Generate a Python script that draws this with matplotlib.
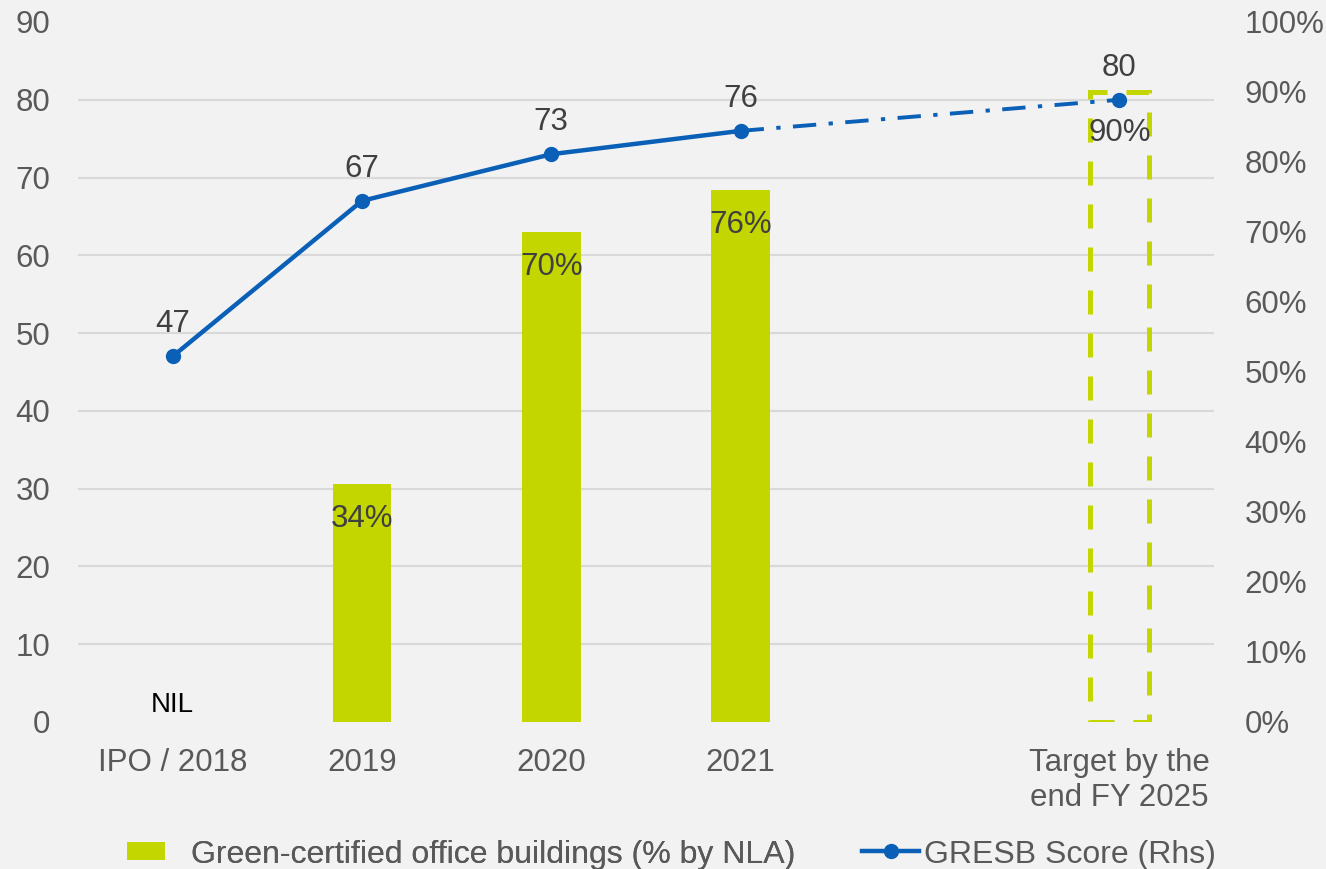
import numpy as np
import matplotlib
matplotlib.use("Agg")
import matplotlib.pyplot as plt
from matplotlib.patches import Patch
from matplotlib.lines import Line2D

# ---- data ----
categories = ["IPO / 2018", "2019", "2020", "2021", "", "Target by the\nend FY 2025"]
green_pct = [0, 34, 70, 76]          # Green-certified office buildings (% by NLA), IPO = NIL
green_target = 90                    # target by end FY 2025
gresb_score = [47, 67, 73, 76]       # GRESB score
gresb_target = 80
left_ticks = list(range(0, 91, 10))
right_ticks = list(range(0, 101, 10))

# ---- style ----
plt.rcParams['font.family'] = ['Liberation Sans', 'DejaVu Sans']
BG = '#f2f2f2'
GREEN = '#c4d600'
BLUE = '#0a5fb6'
TICK_C = '#595959'
LABEL_C = '#404040'
GRID_C = '#d9d9d9'
FS = 22.5

fig = plt.figure(figsize=(13.26, 8.69), dpi=100, facecolor=BG)
ax_b = fig.add_axes([0.0588, 0.1692, 0.8567, 0.8055], facecolor=BG)
ax_l = ax_b.twinx()
ax_l.patch.set_visible(False)

x = np.arange(len(categories))
bar_w = 0.31

# bars (right axis, %)
ax_b.bar(x[1:4], green_pct[1:4], width=bar_w, color=GREEN, zorder=3)
ax_b.bar(x[5], green_target, width=bar_w, facecolor='none', edgecolor=GREEN,
         linewidth=3.6, linestyle=(0, (4.8, 3.8)), zorder=3)
for xi, v in zip(x[1:4], green_pct[1:4]):
    ax_b.annotate(f"{v}%", (xi, v), xytext=(0, -25.5), textcoords='offset points',
                  ha='center', va='center', fontsize=FS, color=LABEL_C, zorder=5)
ax_b.annotate(f"{green_target}%", (x[5], green_target), xytext=(0, -29.5),
              textcoords='offset points', ha='center', va='center',
              fontsize=FS, color=LABEL_C, zorder=5)
ax_b.annotate("NIL", (x[0], 0), xytext=(0, 12), textcoords='offset points',
              ha='center', va='center', fontsize=20, color='black', zorder=5)

ax_b.set_ylim(0, 100)
ax_b.yaxis.tick_right()
ax_b.set_yticks(right_ticks)
ax_b.set_yticklabels([f"{v}%" for v in right_ticks])
ax_b.set_yticks(np.array(left_ticks) * 100 / 90, minor=True)
ax_b.grid(which='minor', axis='y', color=GRID_C, linewidth=1.5, zorder=0)
ax_b.tick_params(axis='y', which='both', length=0, labelsize=FS, labelcolor=TICK_C, pad=22)
ax_b.set_axisbelow(True)

# line (left axis)
ax_l.plot(x[:4], gresb_score, color=BLUE, linewidth=3.2, marker='o', markersize=10, zorder=4)
ax_l.plot([x[3], x[5]], [gresb_score[-1], gresb_target], color=BLUE, linewidth=2.8,
          linestyle=(0, (6, 3.2, 1.1, 3.2)), zorder=4)
ax_l.plot([x[5]], [gresb_target], color=BLUE, marker='o', markersize=10, linestyle='none', zorder=4)
for xi, v in zip(list(x[:4]) + [x[5]], gresb_score + [gresb_target]):
    ax_l.annotate(f"{v}", (xi, v), xytext=(0, 23), textcoords='offset points',
                  ha='center', va='center', fontsize=FS, color=LABEL_C)
ax_l.set_ylim(0, 90)
ax_l.yaxis.tick_left()
ax_l.set_yticks(left_ticks)
ax_l.tick_params(axis='y', length=0, labelsize=FS, labelcolor=TICK_C, pad=20)

ax_b.set_xlim(-0.5, len(categories) - 0.5)
ax_b.set_xticks([0, 1, 2, 3, 5])
ax_b.set_xticklabels([categories[i] for i in [0, 1, 2, 3, 5]])
ax_b.tick_params(axis='x', length=0, labelsize=FS, labelcolor=TICK_C, pad=19)

for a in (ax_b, ax_l):
    for s in a.spines.values():
        s.set_visible(False)

# legends
h1 = Patch(facecolor=GREEN, edgecolor='none')
leg1 = fig.legend([h1], ["Green-certified office buildings (% by NLA)"],
                  loc='center left', bbox_to_anchor=(0.0958, 0.0165), frameon=False,
                  fontsize=23, handlelength=1.2, handleheight=0.5, handletextpad=0.8,
                  borderpad=0, borderaxespad=0, labelcolor=TICK_C)
h2 = Line2D([], [], color=BLUE, linewidth=3.2, marker='o', markersize=10)
leg2 = fig.legend([h2], ["GRESB Score (Rhs)"],
                  loc='center left', bbox_to_anchor=(0.650, 0.0165), frameon=False,
                  fontsize=23, handlelength=1.8, handletextpad=0.15,
                  borderpad=0, borderaxespad=0, labelcolor=TICK_C)
fig.add_artist(leg1)

fig.savefig("out.png", dpi=100, facecolor=BG)
